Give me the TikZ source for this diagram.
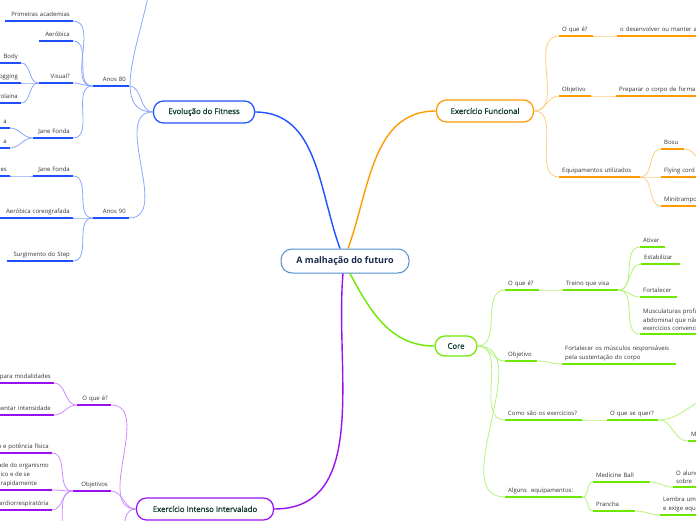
\documentclass[tikz,border=0pt]{standalone}
\usepackage{fontspec}
\setmainfont{Open Sans}
\newfontfamily\titlefont{Open Sans}[FakeBold=1]
\newcommand{\leaffont}{\fontsize{6}{8.7}\selectfont}
\newcommand{\topicfont}{\titlefont\fontsize{7.8}{9}\selectfont}
\newcommand{\rootfont}{\bfseries\fontsize{9}{11}\selectfont}
\definecolor{evoblue}{HTML}{1E50FF}
\definecolor{evolight}{HTML}{8AA6FF}
\definecolor{funorange}{HTML}{FF9A00}
\definecolor{funlight}{HTML}{FFCC80}
\definecolor{coregreen}{HTML}{6FE800}
\definecolor{corelight}{HTML}{B5F27A}
\definecolor{hiitpurple}{HTML}{9A10F0}
\definecolor{hiitlight}{HTML}{CC8CFF}
\definecolor{rootline}{HTML}{4E8FD0}
\definecolor{rootink}{HTML}{1B2A4C}
\definecolor{topicink}{HTML}{123D2E}
\definecolor{leafink}{HTML}{333333}
\tikzset{
  leaf/.style={font=\leaffont, text=leafink, inner xsep=3pt, inner ysep=3pt, text depth=1.5pt},
  lleaf/.style={leaf, anchor=south east, align=right, text width=#1},
  rleaf/.style={leaf, anchor=south west, align=left, text width=#1},
  multi/.style={text depth=},
  ulb/.style={append after command={(\tikzlastnode.south west) edge[draw=evoblue, line width=1.6pt] (\tikzlastnode.south east)}},
  ulo/.style={append after command={(\tikzlastnode.south west) edge[draw=funorange, line width=1.6pt] (\tikzlastnode.south east)}},
  ulg/.style={append after command={(\tikzlastnode.south west) edge[draw=coregreen, line width=1.6pt] (\tikzlastnode.south east)}},
  ulp/.style={append after command={(\tikzlastnode.south west) edge[draw=hiitpurple, line width=1.6pt] (\tikzlastnode.south east)}},
  topic/.style={draw=#1, line width=1.2pt, fill=white, rounded corners=10pt, minimum height=22pt, inner sep=2pt, font=\topicfont, text=topicink},
  rootbox/.style={draw=rootline, line width=1pt, fill=white, rounded corners=11pt, minimum width=128pt, minimum height=24pt, font=\rootfont, text=rootink},
  cb/.style={draw=evolight, line width=0.8pt},
  co/.style={draw=funlight, line width=0.8pt},
  cg/.style={draw=corelight, line width=0.8pt},
  cp/.style={draw=hiitlight, line width=0.8pt}
}

\begin{document}
\begin{tikzpicture}[x=1pt, y=-1pt]
\useasboundingbox (0,0) rectangle (696,520);
\clip (0,0) rectangle (696,520);

% main topics
\node[rootbox] (root) at (345,261) {A malhação do futuro};
\node[topic=evoblue, minimum width=101pt] (evo) at (204,112) {Evolução do Fitness};
\node[topic=funorange, minimum width=97pt] (fun) at (485,111) {Exercício Funcional};
\node[topic=coregreen, minimum width=42pt, minimum height=20pt] (core) at (456,346) {Core};
\node[topic=hiitpurple, minimum width=137pt] (hiit) at (205,509) {Exercício Intenso Intervalado};

\draw[draw=evoblue, line width=1.4pt] ([xshift=-5pt]root.north) to[out=110,in=0] (evo.east);
\draw[draw=funorange, line width=1.4pt] ([xshift=3pt]root.north) to[out=70,in=180] (fun.west);
\draw[draw=hiitpurple, line width=1.4pt] ([xshift=-2pt]root.south) to[out=-95,in=0] (hiit.east);
\draw[draw=coregreen, line width=1.4pt] ([xshift=5pt]root.south) to[out=-62,in=180] (core.west);

% Evolucao do Fitness
\node[lleaf=30, ulb] (a80) at (129,86) {Anos 80};
\node[lleaf=30, ulb] (a90) at (129,218) {Anos 90};
\node[lleaf=62, ulb] (prim) at (73,21) {Primeiras academias};
\node[lleaf=28, ulb] (aero) at (73,41) {Aeróbica};
\node[lleaf=28, ulb] (visual) at (73,83) {Visual?};
\node[lleaf=34, ulb] (jf80) at (73,138) {Jane Fonda};
\node[lleaf=54, ulb] (body) at (21,63) {Body};
\node[lleaf=54, ulb] (jogging) at (21,83) {Jogging};
\node[lleaf=54, ulb] (polaina) at (21,103) {Polaina};
\node[lleaf=44, ulb] (jfa) at (10,128) {a};
\node[lleaf=44, ulb] (jfb) at (10,148) {a};
\node[lleaf=34, ulb] (jf90) at (73,176) {Jane Fonda};
\node[lleaf=44, ulb] (jfes) at (10,176) {es};
\node[lleaf=74, ulb] (coreo) at (73,218) {Aeróbica coreografada};
\node[lleaf=60, ulb] (step) at (73,261) {Surgimento do Step};
\coordinate (evooff) at (129,-60);

\foreach \b in {a80, a90} \draw[cb] (evo.west) to[out=180,in=0] (\b.south east);
\draw[cb] (evo.west) to[out=180,in=0] (evooff);
\foreach \a/\b in {a80/prim, a80/aero, a80/visual, a80/jf80, visual/body, visual/jogging, visual/polaina, jf80/jfa, jf80/jfb, a90/jf90, a90/coreo, a90/step, jf90/jfes}
  \draw[cb] (\a.south west) to[out=180,in=0] (\b.south east);

% Exercicio Funcional
\node[rleaf=28, ulo] (fq) at (559,36) {O que é?};
\node[rleaf=140, ulo] (fqc) at (617,36) {o desenvolver ou manter a};
\node[rleaf=26, ulo] (fo) at (559,96) {Objetivo};
\node[rleaf=140, ulo] (foc) at (616,96) {Preparar o corpo de forma};
\node[rleaf=75, ulo] (feq) at (559,177) {Equipamentos utilizados};
\node[rleaf=17, ulo] (bosu) at (661,149) {Bosu};
\node[rleaf=60, ulo] (flying) at (661,177) {Flying cord};
\node[rleaf=60, ulo] (mini) at (661,206) {Minitrampolim};
\coordinate (bosuoff) at (712,170);

\foreach \b in {fq, fo, feq} \draw[co] (fun.east) to[out=0,in=180] (\b.south west);
\foreach \a/\b in {fq/fqc, fo/foc, feq/bosu, feq/flying, feq/mini}
  \draw[co] (\a.south east) to[out=0,in=180] (\b.south west);
\draw[co] (bosu.south east) to[out=0,in=180] (bosuoff);

% Core
\node[rleaf=28, ulg] (cq) at (505,290) {O que é?};
\node[rleaf=49, ulg] (treino) at (563,290) {Treino que visa};
\node[rleaf=19, ulg] (ativar) at (640,247) {Ativar};
\node[rleaf=33, ulg] (estab) at (641,264) {Estabilizar};
\node[rleaf=31, ulg] (fortal) at (640,297) {Fortalecer};
\node[rleaf=120, multi, ulg] (muscul) at (640,334) {Musculaturas profundas\\abdominal que não conseguimos\\exercícios convencionais};
\node[rleaf=26, ulg] (cobj) at (505,361) {Objetivo};
\node[rleaf=108, multi, ulg] (fortm) at (562,364) {Fortalecer os músculos responsáveis\\pela sustentação do corpo};
\node[rleaf=71, ulg] (como) at (505,420) {Como são os exercícios?};
\node[rleaf=45, ulg] (quer) at (607,420) {O que se quer?};
\node[rleaf=40, ulg] (querm) at (688,441) {M};
\node[rleaf=71, ulg] (alg) at (505,497) {Alguns\ \ equipamentos:};
\node[rleaf=51, ulg] (ball) at (593,482) {Medicine Ball};
\node[rleaf=60, multi, ulg] (aluno) at (673,487) {O aluno\\sobre};
\node[rleaf=36, ulg] (prancha) at (593,511) {Prancha};
\node[rleaf=60, multi, ulg] (lembra) at (660,515) {Lembra uma\\e exige equilíbrio};
\coordinate (queroff) at (716,398);

\foreach \b in {cq, cobj, como, alg} \draw[cg] (core.east) to[out=0,in=180] (\b.south west);
\foreach \a/\b in {cq/treino, treino/ativar, treino/estab, treino/fortal, treino/muscul, cobj/fortm, como/quer, quer/querm, alg/ball, alg/prancha, ball/aluno, prancha/lembra}
  \draw[cg] (\a.south east) to[out=0,in=180] (\b.south west);
\draw[cg] (quer.south east) to[out=0,in=180] (queroff);

% Exercicio Intenso Intervalado
\node[lleaf=28, ulp] (pq) at (111,405) {O que é?};
\node[lleaf=74, ulp] (pmod) at (54,383) {para modalidades};
\node[lleaf=74, ulp] (pint) at (54,415) {Aumentar intensidade};
\node[lleaf=32, ulp] (pobj) at (111,491) {Objetivos};
\node[lleaf=84, ulp] (ppot) at (52,453) {Força e potência física};
\node[leaf, multi, anchor=south east, align=left, ulp] (porg) at (52,490) {a capacidade do organismo\\esforço físico e de se\\recuperar rapidamente};
\node[lleaf=90, ulp] (pcardio) at (52,510) {Capacidade cardiorrespiratória};
\coordinate (hiitoff) at (111,560);
\coordinate (pobjoff) at (52,540);

\foreach \b in {pq, pobj} \draw[cp] (hiit.west) to[out=180,in=0] (\b.south east);
\draw[cp] (hiit.west) to[out=180,in=0] (hiitoff);
\foreach \a/\b in {pq/pmod, pq/pint, pobj/ppot, pobj/porg, pobj/pcardio}
  \draw[cp] (\a.south west) to[out=180,in=0] (\b.south east);
\draw[cp] (pobj.south west) to[out=180,in=0] (pobjoff);
\end{tikzpicture}
\end{document}
